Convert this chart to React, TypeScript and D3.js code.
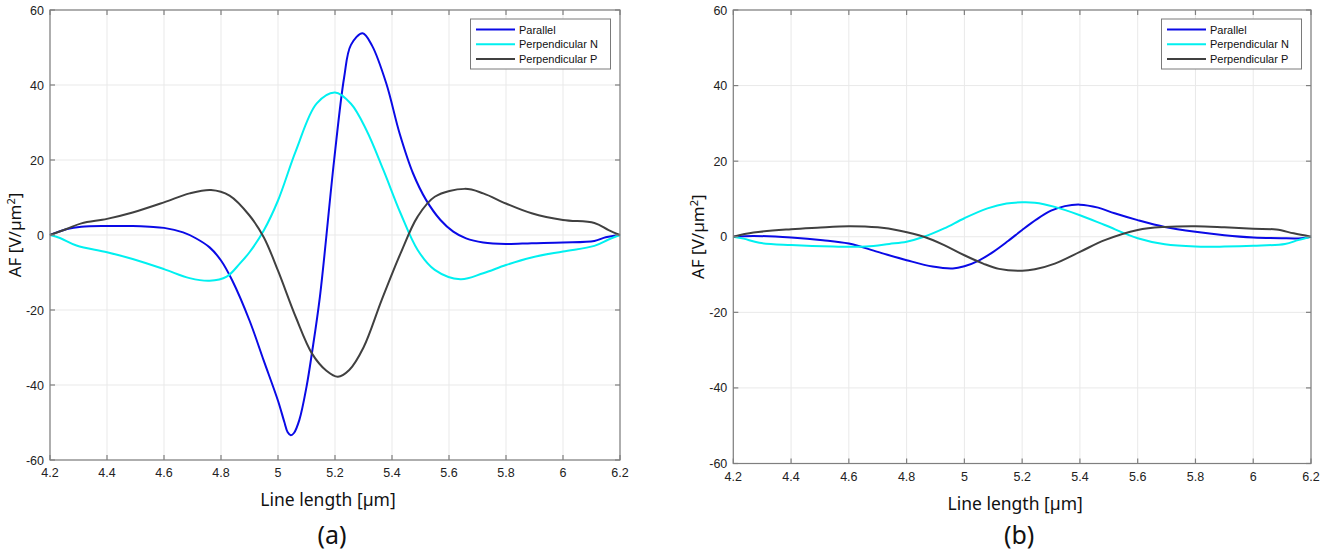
import React from "react";
import * as d3 from "d3";

// ---------- DATA ----------
const xTicks = [4.2, 4.4, 4.6, 4.8, 5.0, 5.2, 5.4, 5.6, 5.8, 6.0, 6.2];
const yTicks = [-60, -40, -20, 0, 20, 40, 60];
const seriesNames = ["Parallel", "Perpendicular N", "Perpendicular P"];
const seriesColors = ["#0a0ae6", "#00f0f0", "#404040"];
const panelLabels = ["(a)", "(b)"];

// Panel (a)
const aParallel: [number, number][] = [
  [4.2, 0], [4.26, 1.6], [4.31, 2.2], [4.4, 2.4], [4.49, 2.4], [4.55, 2.2], [4.6, 1.9],
  [4.667, 0.7], [4.71, -0.8], [4.76, -3.3], [4.8, -6.8], [4.84, -12.2], [4.9, -22.8],
  [4.95, -33.5], [5.0, -44.2], [5.022, -49.8], [5.034, -52.6], [5.045, -53.4], [5.056, -52.8],
  [5.075, -49.3], [5.1, -40.5], [5.12, -31], [5.147, -16.5],
  [5.197, 20], [5.232, 42], [5.256, 50.7], [5.297, 53.8], [5.33, 50.5], [5.38, 40.4],
  [5.427, 27], [5.474, 16.4], [5.52, 9.3], [5.57, 4], [5.615, 0.9], [5.66, -0.9],
  [5.72, -2], [5.8, -2.4], [5.89, -2.2], [6.0, -2], [6.11, -1.6], [6.15, -0.6], [6.2, 0],
];
const aPerpN: [number, number][] = [
  [4.2, 0], [4.235, -0.8], [4.293, -2.8], [4.4, -4.6], [4.49, -6.4], [4.6, -9.1],
  [4.69, -11.5], [4.76, -12.2], [4.82, -11.1], [4.865, -7.7], [4.9, -4.6], [4.95, 1.2],
  [5.0, 9.2], [5.063, 22.5], [5.136, 35.1], [5.2, 38], [5.256, 35], [5.31, 28],
  [5.37, 17.3], [5.43, 5.8], [5.49, -4], [5.55, -9.3], [5.64, -11.8], [5.72, -10.2],
  [5.8, -8], [5.89, -6], [6.0, -4.4], [6.11, -2.9], [6.16, -1.2], [6.2, 0],
];
const aPerpP: [number, number][] = [
  [4.2, 0], [4.258, 1.6], [4.31, 3.1], [4.4, 4.3], [4.49, 6], [4.6, 8.7], [4.69, 11.1],
  [4.765, 12], [4.83, 10.5], [4.9, 5.2], [4.95, -0.6], [5.0, -9.5], [5.063, -22],
  [5.12, -31.7], [5.17, -36.2], [5.21, -37.8], [5.25, -36], [5.3, -30], [5.364, -17.3],
  [5.43, -4.9], [5.49, 4.9], [5.55, 10.2], [5.655, 12.3], [5.72, 11.1], [5.8, 8.4],
  [5.89, 5.8], [6.0, 4], [6.11, 3.2], [6.16, 1.3], [6.2, 0],
];

// Panel (b)
const bParallel: [number, number][] = [
  [4.2, 0], [4.27, 0.2], [4.4, -0.2], [4.51, -0.9], [4.6, -1.8], [4.7, -4], [4.8, -6.2],
  [4.89, -7.9], [4.96, -8.4], [5.0, -7.8], [5.05, -6.3], [5.1, -4], [5.15, -1.2],
  [5.2, 1.8], [5.25, 4.6], [5.3, 6.9], [5.348, 8.1], [5.4, 8.5], [5.463, 7.7], [5.52, 6.2],
  [5.6, 4.4], [5.694, 2.6], [5.8, 1.3], [5.9, 0.4], [6.0, -0.2], [6.097, -0.4],
  [6.167, -0.4], [6.2, 0],
];
const bPerpN: [number, number][] = [
  [4.2, 0], [4.235, -0.5], [4.29, -1.6], [4.4, -2.2], [4.546, -2.6], [4.66, -2.6],
  [4.74, -1.9], [4.8, -1.3], [4.86, 0], [4.93, 2.2], [5.0, 4.9], [5.08, 7.5],
  [5.146, 8.8], [5.2, 9.1], [5.244, 9], [5.313, 7.9], [5.4, 5.7], [5.486, 3.1],
  [5.6, -0.4], [5.694, -2], [5.8, -2.6], [5.9, -2.6], [6.0, -2.4], [6.11, -1.9],
  [6.155, -0.9], [6.2, 0],
];
const bPerpP: [number, number][] = [
  [4.2, 0], [4.27, 1.1], [4.4, 2], [4.49, 2.4], [4.6, 2.8], [4.7, 2.5], [4.777, 1.6],
  [4.86, 0], [4.93, -2.2], [5.0, -4.9], [5.065, -7.1], [5.12, -8.5], [5.2, -9],
  [5.244, -8.6], [5.313, -7.1], [5.4, -4], [5.486, -0.9], [5.6, 1.8], [5.694, 2.6],
  [5.8, 2.8], [5.9, 2.5], [6.0, 2.1], [6.08, 1.9], [6.14, 0.9], [6.2, 0],
];

const panelSeries = [
  [aParallel, aPerpN, aPerpP],
  [bParallel, bPerpN, bPerpP],
];

// ---------- LAYOUT ----------
const W = 1325;
const H = 558;
const panels = [
  { left: 50, right: 620, top: 10, bottom: 460 },
  { left: 733.3, right: 1311, top: 10, bottom: 463.5 },
];

const tickFont = "'Liberation Sans', Arial, Helvetica, sans-serif";
const titleFont = "'Noto Sans', 'Open Sans', sans-serif";
const axisColor = "#7f7f7f";
const gridColor = "#e9e9e9";

function fmt(v: number) {
  return d3.format("~g")(+v.toFixed(2));
}

function Panel({ idx }: { idx: number }) {
  const p = panels[idx];
  const x = d3.scaleLinear().domain([4.2, 6.2]).range([p.left, p.right]);
  const y = d3.scaleLinear().domain([-60, 60]).range([p.bottom, p.top]);
  const line = d3
    .line<[number, number]>()
    .x((d) => x(d[0]))
    .y((d) => y(d[1]))
    .curve(d3.curveCatmullRom.alpha(0.5));
  const tickLen = 5;
  const legRight = p.right - 9.5;
  const legLeft = legRight - 140;
  const legTop = p.top + 9;
  const cx = (p.left + p.right) / 2 - 7;
  const cy = (p.top + p.bottom) / 2;
  return (
    <g>
      <rect x={p.left} y={p.top} width={p.right - p.left} height={p.bottom - p.top} fill="#fff" />
      {/* grid */}
      {xTicks.map((t) => (
        <line key={"gx" + t} x1={x(t)} x2={x(t)} y1={p.top} y2={p.bottom} stroke={gridColor} strokeWidth={1} />
      ))}
      {yTicks.map((t) => (
        <line key={"gy" + t} x1={p.left} x2={p.right} y1={y(t)} y2={y(t)} stroke={gridColor} strokeWidth={1} />
      ))}
      {/* series */}
      {panelSeries[idx].map((s, i) => (
        <path key={"s" + i} d={line(s) || ""} fill="none" stroke={seriesColors[i]} strokeWidth={2} strokeLinejoin="round" />
      ))}
      {/* frame */}
      <rect x={p.left} y={p.top} width={p.right - p.left} height={p.bottom - p.top} fill="none" stroke={axisColor} strokeWidth={1.2} />
      {/* ticks */}
      {xTicks.map((t) => (
        <g key={"tx" + t}>
          <line x1={x(t)} x2={x(t)} y1={p.bottom} y2={p.bottom - tickLen} stroke={axisColor} strokeWidth={1.2} />
          <line x1={x(t)} x2={x(t)} y1={p.top} y2={p.top + tickLen} stroke={axisColor} strokeWidth={1.2} />
          <text x={x(t)} y={p.bottom + 17} textAnchor="middle" fontFamily={tickFont} fontSize={12.5} fill="#222">
            {fmt(t)}
          </text>
        </g>
      ))}
      {yTicks.map((t) => (
        <g key={"ty" + t}>
          <line x1={p.left} x2={p.left + tickLen} y1={y(t)} y2={y(t)} stroke={axisColor} strokeWidth={1.2} />
          <line x1={p.right} x2={p.right - tickLen} y1={y(t)} y2={y(t)} stroke={axisColor} strokeWidth={1.2} />
          <text x={p.left - 6} y={y(t) + 4.5} textAnchor="end" fontFamily={tickFont} fontSize={12.5} fill="#222">
            {t}
          </text>
        </g>
      ))}
      {/* legend */}
      <rect x={legLeft} y={legTop} width={140} height={50} fill="#fff" stroke="#7a7a7a" strokeWidth={1} />
      {seriesNames.map((n, i) => (
        <g key={"l" + i}>
          <line x1={legLeft + 5.5} x2={legLeft + 44.5} y1={legTop + 10.5 + i * 14.8} y2={legTop + 10.5 + i * 14.8} stroke={seriesColors[i]} strokeWidth={2} />
          <text x={legLeft + 48.5} y={legTop + 14.5 + i * 14.8} fontFamily={tickFont} fontSize={11} fill="#111">
            {n}
          </text>
        </g>
      ))}
      {/* axis titles */}
      <text x={cx} y={p.bottom + 46} textAnchor="middle" fontFamily={titleFont} fontSize={17.5} fill="#111">
        Line length [µm]
      </text>
      <text x={cx + 4} y={H - 14} textAnchor="middle" fontFamily={titleFont} fontSize={25} fill="#111">
        {panelLabels[idx]}
      </text>
      <text
        transform={`translate(${p.left - 29},${cy}) rotate(-90)`}
        textAnchor="middle"
        fontFamily={titleFont}
        fontSize={17}
        fill="#111"
      >
        AF [V/µm
        <tspan dy={-6} fontSize={11}>2</tspan>
        <tspan dy={6}>]</tspan>
      </text>
    </g>
  );
}

export default function App() {
  return (
    <svg
      width={W}
      height={H}
      viewBox={`0 0 ${W} ${H}`}
      style={{ position: "absolute", left: 0, top: 0, background: "#fff" }}
    >
      <rect width={W} height={H} fill="#fff" />
      <Panel idx={0} />
      <Panel idx={1} />
    </svg>
  );
}
